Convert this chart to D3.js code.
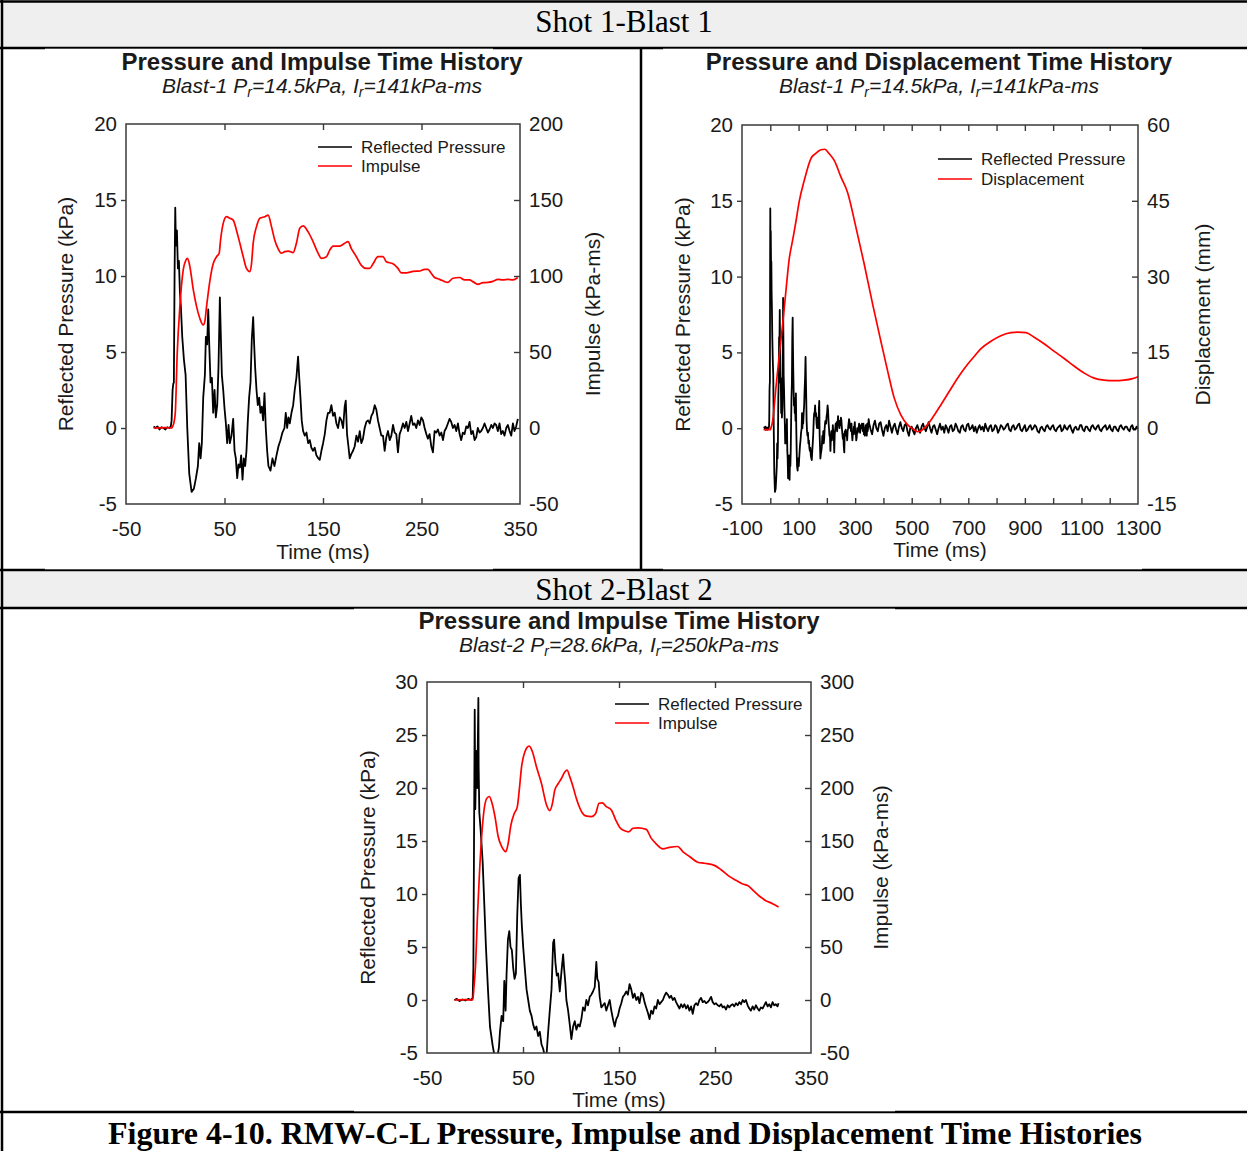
<!DOCTYPE html>
<html>
<head>
<meta charset="utf-8">
<script src="https://cdn.jsdelivr.net/npm/d3@7"></script>
<style>
  body { margin: 0; background: #fff; }
  svg { display: block; }
</style>
</head>
<body>
<script>
// ---------- Text ----------
const shot1Header = "Shot 1-Blast 1";
const shot2Header = "Shot 2-Blast 2";
const figureCaption = "Figure 4-10. RMW-C-L Pressure, Impulse and Displacement Time Histories";
const titleImpulse = "Pressure and Impulse Time History";
const titleDisp = "Pressure and Displacement Time History";
const subtitleBlast1 = ["Blast-1 P", {sub: "r"}, "=14.5kPa, I", {sub: "r"}, "=141kPa-ms"];
const subtitleBlast2 = ["Blast-2 P", {sub: "r"}, "=28.6kPa, I", {sub: "r"}, "=250kPa-ms"];
const labelTime = "Time (ms)";
const labelPressure = "Reflected Pressure (kPa)";
const labelImpulse = "Impulse (kPa-ms)";
const labelDisp = "Displacement (mm)";
const legendPressure = "Reflected Pressure";
const legendImpulse = "Impulse";
const legendDisp = "Displacement";

// ---------- Tick values ----------
const timeTicksShort = [-50, 50, 150, 250, 350];
const timeLabelsShort = [-50, 50, 150, 250, 350];
const timeTicksLong = [-100, 0, 100, 200, 300, 400, 500, 600, 700, 800, 900, 1000, 1100, 1200, 1300];
const timeLabelsLong = [-100, 100, 300, 500, 700, 900, 1100, 1300];
const pressureTicks1 = [-5, 0, 5, 10, 15, 20];
const impulseTicks1 = [-50, 0, 50, 100, 150, 200];
const dispTicks = [-15, 0, 15, 30, 45, 60];
const pressureTicks2 = [-5, 0, 5, 10, 15, 20, 25, 30];
const impulseTicks2 = [-50, 0, 50, 100, 150, 200, 250, 300];

// ---------- Series: [time ms, value] ----------
// Blast 1 reflected pressure (kPa), first 350 ms
const blast1Pressure = [
  [-22,0.1],[-20,0],[-18,0.1],[-16,-0.1],[-14,0.05],[-12,0],[-10,-0.1],[-8,0.05],[-6,0],[-4.5,0.1],
  [-3.7,0.5],[-2.7,2.5],[-2,2.9],[-1.4,3],[-0.7,10],[0,14.5],[0.7,12],[1.7,13],[2.7,10.5],[3.7,11],
  [4.7,9],[5.7,8],[7.1,6],[8.8,4.5],[10.5,3.5],[12.2,0],[14.2,-3],[16.6,-4.2],[18.9,-4],[21,-3.3],
  [23,-2.5],[24.3,-1],[25.7,-2],[27,-1],[28.4,2],[30.1,3.5],[31.1,6],[32.4,5.5],[33.5,7.8],[34.5,5.5],
  [35.8,3],[37.2,3.3],[38.5,1],[39.9,2.5],[41.2,0.7],[42.6,1.5],[43.9,4],[45.3,8.6],[46.3,6],[47.3,3.5],
  [48.7,2.5],[50,1.3],[51.4,0.3],[52.7,-1],[54.1,0.2],[55.4,-1],[57.1,-0.5],[58.8,0.6],[60.2,-1.5],[61.5,-2],
  [62.9,-3.3],[64.2,-2.4],[65.6,-2.6],[66.9,-1.8],[68.3,-3.4],[69.6,-2],[71,-2.5],[72.3,-1.5],[73.7,0.5],[75,2],
  [76.4,3],[77.7,5.8],[79.1,7.3],[80.1,5.5],[81.1,4],[82.5,2.5],[83.8,1.5],[85.2,2],[86.5,1],[87.9,1.4],
  [89.2,0.5],[90.6,2.3],[91.9,0],[93.3,-1.5],[94.6,-2.5],[96.7,-2.8],[98.7,-2],[100.7,-2.5],[102.8,-1.8],[104.8,-1.2],
  [106.8,-0.8],[108.8,-0.3],[110.9,0],[112.2,1],[113.6,0],[114.9,0.7],[116.3,0.3],[118,1],[119.7,1.5],[121.3,2.5],
  [123,3.3],[124.7,4.7],[125.7,3.5],[127.1,2],[128.4,0.5],[129.8,-0.2],[131.5,-0.5],[133.2,-0.3],[134.9,-1],[136.6,-0.8],
  [138.2,-1.3],[139.9,-1.5],[141.6,-1.3],[143.3,-1.8],[145.3,-2],[146.7,-2.1],[148.4,-1.5],[150.1,-1],[151.8,-0.4],[153.5,0.5],
  [155.1,1],[156.8,1],[158.5,1.5],[160.2,0.8],[161.9,1],[163.6,0.3],[165.3,0],[167,0.7],[168.7,0.5],[170.4,0],
  [172,1.4],[173.1,1.8],[174.4,-0.4],[175.8,-1.2],[177.1,-2],[178.8,-1.7],[180.5,-1.5],[182.2,-1.2],[183.9,-0.5],[185.6,-0.9],
  [187.3,-0.2],[188.9,-1],[190.6,-0.7],[192.3,0],[194,0.4],[195.7,0.5],[197.4,0.3],[199.1,0.8],[200.8,1],[202.5,1.5],
  [204.2,1.2],[205.8,0.5],[207.5,0],[209.2,-0.5],[210.9,-0.5],[212.6,-1.5],[214.3,-0.6],[216,-0.2],[217.7,-0.8],[219.4,-0.5],
  [221.1,0.2],[222.7,-0.3],[224.4,-0.4],[226.1,-1.6],[227.8,-0.4],[229.5,-0.1],[231.2,0.3],[232.9,0],[234.6,0.4],[236.3,-0.2],
  [238,0.3],[239.6,0.8],[241.3,0.2],[243,0.3],[244.7,0],[246.4,0.5],[248.1,0.2],[249.8,0.7],[251.5,0.5],[253.2,0],
  [254.9,-0.4],[256.5,-0.7],[258.2,-0.4],[259.9,-1.2],[261.6,-1.6],[263.3,-0.2],[265,-0.3],[266.7,-0.1],[268.4,-0.5],[270.1,-0.3],
  [271.8,-0.8],[273.4,-0.2],[275.1,0],[276.8,0.3],[278.5,0.6],[280.2,0.4],[281.9,0],[283.6,0.2],[285.3,-0.2],[287,0.3],
  [288.7,-0.4],[290.3,-0.8],[292,-0.3],[293.7,-0.4],[295.4,0.1],[297.1,0],[298.8,0.4],[300.5,-0.4],[302.2,-0.2],[303.9,-0.8],
  [305.6,-0.6],[307.2,0],[308.9,-0.3],[310.6,-0.2],[312.3,0],[314,0.3],[315.7,0],[317.4,-0.3],[319.1,-0.1],[320.8,0.2],
  [322.5,0],[324.1,0.3],[325.8,0.2],[327.5,-0.2],[329.2,0.3],[330.9,-0.4],[332.6,-0.2],[334.3,-0.5],[336,0],[337.7,0.2],
  [339.4,-0.2],[341.1,-0.5],[342.8,0.3],[344.4,-0.2],[346.1,0.1],[347.8,0.6]
];
// Blast 1 reflected pressure (kPa), 350 ms onwards
const blast1PressureLate = [
  [350,0.3],[355,-0.1],[360,-0.4],[365,0.2],[370,0.5],[375,0],[380,-0.2],[385,0.3],[390,0.4],[395,-0.1],
  [400,-0.5],[405,0],[410,0.2],[415,-0.2],[420,0.5],[425,0.1],[430,-0.3],[435,0.1],[440,0.3],[445,-0.1],
  [450,-0.4],[455,0.1],[460,0.4],[465,0],[470,-0.2],[475,0.2],[480,0.3],[485,-0.2],[490,-0.5],[495,0],
  [500,0.1],[505,-0.2],[510,-0.4],[515,0],[520,0.2],[525,-0.1],[530,-0.3],[535,0.1],[540,0.3],[545,0],
  [550,-0.2],[555,0.1],[560,0.4],[565,0],[570,-0.3],[575,0.1],[580,0.2],[585,-0.1],[590,-0.4],[595,0],
  [600,0.3],[605,-0.1],[610,0.1],[615,-0.3],[620,0.2],[625,0],[630,-0.3],[635,0.1],[640,0.2],[645,-0.2],
  [650,-0.1],[655,0.3],[660,0.1],[665,-0.2],[670,-0.3],[675,0.1],[680,0.2],[685,-0.1],[690,-0.2],[695,0.2],
  [700,0.3],[705,-0.1],[710,0],[715,0.2],[720,-0.2],[725,0.1],[730,-0.3],[735,0],[740,0.2],[745,-0.1],
  [750,0.1],[755,-0.2],[760,0.3],[765,0],[770,-0.2],[775,0.1],[780,0.2],[785,-0.2],[790,-0.1],[795,0.2],
  [800,0.1],[805,-0.3],[810,-0.1],[815,0.2],[820,0.1],[825,-0.1],[830,0],[835,0.2],[840,0.3],[845,-0.1],
  [850,-0.2],[855,0.1],[860,0.2],[865,-0.1],[870,0],[875,0.2],[880,0.3],[885,-0.1],[890,-0.2],[895,0],
  [900,0.2],[905,-0.2],[910,-0.1],[915,0.1],[920,0.2],[925,-0.1],[930,0],[935,0.2],[940,0.1],[945,-0.2],
  [950,-0.3],[955,0],[960,0.1],[965,-0.1],[970,-0.2],[975,0.1],[980,0.2],[985,0],[990,-0.1],[995,0.1],
  [1000,0.2],[1005,-0.1],[1010,-0.2],[1015,0],[1020,0.1],[1025,0.2],[1030,-0.2],[1035,-0.1],[1040,0.2],[1045,0],
  [1050,-0.1],[1055,0.1],[1060,0.2],[1065,-0.1],[1070,-0.3],[1075,0],[1080,0.1],[1085,-0.1],[1090,-0.1],[1095,0.2],
  [1100,0.2],[1105,-0.1],[1110,-0.2],[1115,0.1],[1120,0.1],[1125,-0.1],[1130,-0.2],[1135,0.1],[1140,0.2],[1145,0],
  [1150,-0.1],[1155,0.1],[1160,0.2],[1165,-0.1],[1170,-0.2],[1175,0],[1180,0.1],[1185,0.2],[1190,-0.1],[1195,0],
  [1200,0.2],[1205,-0.1],[1210,-0.2],[1215,0.1],[1220,0.1],[1225,-0.1],[1230,-0.2],[1235,0.1],[1240,0.2],[1245,0],
  [1250,-0.1],[1255,0.1],[1260,0.1],[1265,-0.1],[1270,-0.2],[1275,0.1],[1280,0.2],[1285,-0.1],[1290,-0.1],[1295,0.1],
  [1300,0]
];
// Blast 1 impulse (kPa-ms)
const blast1Impulse = [
  [-22,0],[-10,0.3],[-4,0],[-2,2],[0,9.6],[2,49],[4.7,80],[8.1,104],[10.8,110.5],[12.5,111.6],
  [14.9,106],[18.3,91],[21.6,80],[25,72],[28.4,67.8],[30,70],[31.8,80],[35.2,97],[38.5,108],[41.9,112.7],
  [44.6,115],[46,123.7],[48.7,134.6],[52,139],[55.4,138],[58.8,136.8],[62.2,130],[65.6,121.5],[69,112.7],[72.3,105],
  [75.7,102.9],[77.4,108],[79.1,121.5],[82.5,132.5],[85.9,138],[90.9,139],[94.3,140],[97.7,132.5],[101,123.7],[104.4,118],
  [107.8,115],[111.2,116],[114.6,116.4],[119.7,115.4],[123,121.5],[126.4,131.4],[129.8,133],[134.9,129],[139.9,122.6],[145,115],
  [148.4,111.6],[153.5,112.7],[156.8,117],[160.2,119.7],[167,119.7],[172,121.5],[175.4,122.6],[178.8,118],[183.9,112.7],[188.9,107],
  [194,105],[197.4,105],[200.8,108],[205.8,112.7],[210.9,112.7],[214.3,109.4],[221.1,108],[226.1,105],[229.5,102],[234.6,102],
  [241.3,103],[248.1,103.3],[253.2,104.4],[256.5,104.4],[259.9,101.8],[263.3,99],[268.4,97.8],[273.4,96.3],[276.8,95.8],[281.9,98.5],
  [288.7,99],[293.7,97.4],[298.8,97.4],[302.2,96.3],[307.2,94.5],[312.3,95.6],[317.4,95.8],[322.5,96.5],[327.5,97.8],[332.6,97.4],
  [337.7,97.8],[342.8,97.4],[347.8,99]
];
// Blast 1 displacement (mm)
const blast1Displacement = [
  [-23.5,-0.3],[0,-0.3],[2,0],[8,1.3],[20,8],[32,14.6],[43.6,20.5],[55,27],[67,33.5],[79,37.2],
  [91,41],[102,44.8],[120,49],[144,53.4],[161,54.4],[179,55.1],[193,55.2],[208.5,54.3],[226,53],[250,49.7],
  [273,46.7],[303,39.7],[332,32.5],[362,24.5],[391,17.2],[415,11.3],[438,6],[462,2.6],[485,0.7],[509,-0.3],
  [521,-0.7],[538,-0.3],[556,0.7],[580,2.6],[603,4.6],[633,7.3],[662,9.9],[697,12.6],[721,14.2],[744,15.7],
  [780,17.2],[815,18.3],[851,18.9],[874,19],[904,18.9],[933,18],[968,16.7],[1004,15.2],[1039,13.8],[1074,12.3],
  [1110,10.9],[1145,9.9],[1180,9.5],[1216,9.4],[1251,9.5],[1281,9.8],[1300,10.2]
];
// Blast 2 reflected pressure (kPa)
const blast2Pressure = [
  [-21.5,0],[-19,0.1],[-16,-0.1],[-13,0.05],[-10,-0.05],[-7,0.1],[-4,0],[-2.4,0.2],[-1.7,3],[-0.3,27.4],
  [0.3,18],[1.4,23.5],[2.4,20],[3.5,28.5],[3.8,22],[4.5,17.7],[5.9,16],[8,13],[9.7,9],[11.4,5],
  [13.5,1],[15.6,-2.5],[18.4,-4.3],[20.8,-5.5],[23.2,-5.4],[24.9,-4.5],[26,-3],[27.7,-1.5],[29.4,-2],[30.5,1.8],
  [31.9,-1],[32.9,2.5],[34.3,5.7],[35.7,6.5],[37,5],[38.4,4.7],[39.8,3],[41.2,2],[42.6,2.5],[44,8],
  [45.4,11.5],[46.8,11.8],[47.8,9],[48.8,7],[50.2,5],[51.9,3],[53.7,1],[55.4,0],[57.1,-1],[58.9,-1.5],
  [60.6,-2.3],[62.3,-2.8],[64,-2.5],[65.8,-3.4],[67.5,-3],[69.3,-4.2],[71,-4.6],[72.7,-5.3],[74.5,-5.2],[76.2,-3],
  [77.9,-1],[79.7,1],[81.4,5.4],[82.4,5.7],[83.8,3.5],[85.2,2.3],[86.6,2.5],[88.3,0.8],[90,2.6],[91.8,4.3],
  [92.8,3],[94.2,1.5],[95.2,0],[97,-1],[98.7,-2.3],[100.4,-3.7],[102.2,-2.5],[103.9,-2],[105.6,-2.8],[107.4,-2.3],
  [109.1,-2.5],[110.8,-1.8],[112.5,-0.7],[114.3,-1],[116,0],[117.7,-0.5],[119.5,0.3],[121.2,0.5],[122.9,0.8],[124.7,1.2],
  [126.4,3.6],[127.4,2],[128.8,1.7],[129.9,0.3],[131.6,-0.7],[133.3,-0.5],[135.1,-0.3],[136.8,-1],[138.5,-0.5],[140.3,0],
  [142,-1],[143.7,-1.8],[145.5,-2.5],[147.2,-1.8],[148.9,-1.5],[150.6,-0.8],[152.4,-0.3],[154.1,0.3],[155.8,0.5],[157.6,0.8],
  [159.3,0.5],[161,1.5],[162.8,1],[164.5,0.2],[166.2,0.6],[168,0],[169.7,0.3],[171.4,-0.3],[173.2,0.7],[174.9,0.5],
  [176.6,-0.2],[178.3,-0.7],[180.1,-1.2],[181.8,-1.8],[183.5,-1],[185.3,-1.3],[187,-0.6],[188.7,-0.8],[190.5,0],[192.2,-0.4],
  [193.9,-0.2],[195.7,0],[197.4,0.4],[199.1,0.7],[200.9,0.5],[202.6,0.2],[204.3,0.4],[206.1,0],[207.8,0.2],[209.5,-0.2],
  [211.2,-0.5],[213,-0.8],[214.7,-0.4],[216.4,-0.7],[218.2,-0.4],[219.9,-0.8],[221.6,-0.5],[223.4,-1],[225.1,-0.6],[226.8,-1.3],
  [228.6,-0.5],[230.3,-0.3],[232,-0.5],[233.8,0],[235.5,0.2],[237.2,-0.2],[239,-0.1],[240.7,-0.3],[242.4,-0.2],[244.1,0],
  [245.9,0.3],[247.6,-0.2],[249.3,-0.4],[251.1,-0.3],[252.8,-0.5],[254.5,-0.6],[256.3,-0.4],[258,-0.7],[259.7,-0.6],[261.5,-0.9],
  [263.2,-0.5],[264.9,-0.7],[266.7,-0.5],[268.4,-0.4],[270.1,-0.6],[271.9,-0.3],[273.6,-0.5],[275.3,-0.2],[277.1,-0.4],[278.8,0],
  [280.5,-0.2],[282.2,0],[284,-0.5],[285.7,-0.8],[287.4,-1],[289.2,-0.6],[290.9,-0.9],[292.6,-0.5],[294.4,-0.8],[296.1,-1],
  [297.8,-0.7],[299.6,-0.8],[301.3,-0.5],[303,-0.2],[304.8,-0.6],[306.5,-0.4],[308.2,-0.7],[310,-0.2],[311.7,-0.5],[313.4,-0.4],
  [315.1,-0.6],[316.2,-0.3]
];
// Blast 2 impulse (kPa-ms)
const blast2Impulse = [
  [-21.5,0],[-10,0.3],[-2.4,0],[-1,13],[0.7,35],[2.4,76],[4.5,117],[6.9,154],[9.4,179],[12.1,190],
  [14.9,192],[17.3,187],[20.8,173],[24.2,154],[27.7,145],[32.2,140],[34.6,148],[37.4,165],[40.9,176],[44,182],
  [46.1,198],[48.5,220],[51.9,234],[56.4,239.5],[59.9,234],[64,220],[69.3,204],[74.5,184],[77.9,178.7],[80.7,185.6],
  [83.1,198],[86.6,204],[90,209],[93.5,215],[95.9,217],[98.7,210.7],[102.2,201],[105.6,190],[110.8,178],[115.3,173.7],
  [121.2,173],[125.7,176],[129.2,185.6],[132.6,186],[136.8,182.4],[142,179.3],[146.5,170],[150.6,163],[155.8,159.6],[160.3,158.6],
  [164.5,162],[169.7,162.4],[178.3,161],[183.5,152.7],[188.7,147.3],[195.7,142.6],[202.6,144],[211.2,144.8],[216.4,140],[223.4,135.4],
  [232,130],[239,129],[249.3,127],[256.3,122.9],[264.9,116.6],[271.9,112.9],[278.8,109.4],[284,108],[290.9,102.5],[297.8,96.9],
  [303,93.7],[310,90.9],[316.2,87.8]
];

// ---------- Page ----------
const W = 1247, H = 1151;
const SANS = '"Liberation Sans", Arial, Helvetica, sans-serif';
const SERIF = '"Liberation Serif", "Times New Roman", Times, serif';
const INK = "#1a1a1a";
const AXIS = "#3a3a3a";
const RED = "#ff0000";

const svg = d3.select("body").append("svg").attr("width", W).attr("height", H);
const defs = svg.append("defs");

// Table: header bands and rules
const table = svg.append("g");
table.append("rect").attr("x", 2).attr("y", 1).attr("width", W - 2).attr("height", 47).attr("fill", "#efefef");
table.append("rect").attr("x", 2).attr("y", 570).attr("width", W - 2).attr("height", 38).attr("fill", "#efefef");
const rules = [
  [0, 1.5, W, 1.5], [2, 0, 2, H], [0, 48, W, 48], [641, 48, 641, 570],
  [0, 570, W, 570], [0, 608, W, 608], [0, 1112, W, 1112]
];
table.selectAll("line.rule").data(rules).join("line").attr("class", "rule")
  .attr("x1", d => d[0]).attr("y1", d => d[1]).attr("x2", d => d[2]).attr("y2", d => d[3])
  .attr("stroke", "#000").attr("stroke-width", 2.5);
// white chart panels sitting over part of the rules
[[45, 48.7, 448, 520.6], [663, 48.7, 479, 520.6], [354, 608.7, 541, 502.6]].forEach(r => {
  table.append("rect").attr("x", r[0]).attr("y", r[1]).attr("width", r[2]).attr("height", r[3]).attr("fill", "#fff");
});

svg.append("text").attr("x", 624).attr("y", 32).attr("text-anchor", "middle")
  .attr("font-family", SERIF).attr("font-size", 31).attr("fill", "#000").text(shot1Header);
svg.append("text").attr("x", 624).attr("y", 600).attr("text-anchor", "middle")
  .attr("font-family", SERIF).attr("font-size", 31).attr("fill", "#000").text(shot2Header);
svg.append("text").attr("x", 625).attr("y", 1144).attr("text-anchor", "middle")
  .attr("font-family", SERIF).attr("font-size", 32).attr("font-weight", "bold").attr("fill", "#000").text(figureCaption);

// ---------- Chart panel ----------
function drawPanel(cfg) {
  const g = svg.append("g");
  const x = d3.scaleLinear().domain(cfg.xDomain).range([cfg.left, cfg.right]);
  const y = d3.scaleLinear().domain(cfg.yDomain).range([cfg.bottom, cfg.top]);
  const y2 = d3.scaleLinear().domain(cfg.y2Domain).range([cfg.bottom, cfg.top]);

  const clipId = "clip-" + cfg.id;
  defs.append("clipPath").attr("id", clipId).append("rect")
    .attr("x", cfg.left).attr("y", cfg.top)
    .attr("width", cfg.right - cfg.left).attr("height", cfg.bottom - cfg.top);

  const styleAxis = (s, ends) => {
    s.select(".domain").remove();
    s.attr("font-size", 20.5).attr("font-family", SANS).attr("color", INK);
    s.selectAll(".tick line").attr("stroke", AXIS).attr("stroke-width", 1.4);
    s.selectAll(".tick").filter(d => d === ends[0] || d === ends[1]).select("line").remove();
  };
  const fmt = d => String(d);

  g.append("g").attr("transform", `translate(${cfg.left},0)`)
    .call(d3.axisLeft(y).tickValues(cfg.yTicks).tickSizeInner(5).tickSizeOuter(0).tickPadding(4).tickFormat(fmt))
    .call(s => styleAxis(s, cfg.yDomain));
  g.append("g").attr("transform", `translate(${cfg.right},0)`)
    .call(d3.axisRight(y2).tickValues(cfg.y2Ticks).tickSizeInner(-6).tickSizeOuter(0).tickPadding(9).tickFormat(fmt))
    .call(s => styleAxis(s, cfg.y2Domain));
  g.append("g").attr("transform", `translate(0,${cfg.bottom})`)
    .call(d3.axisBottom(x).tickValues(cfg.xTicks).tickSizeInner(-6).tickSizeOuter(0).tickPadding(cfg.xPad)
      .tickFormat(d => cfg.xLabels.includes(d) ? String(d) : ""))
    .call(s => styleAxis(s, cfg.xDomain));
  g.append("g").attr("transform", `translate(0,${cfg.top})`)
    .call(d3.axisTop(x).tickValues(cfg.xTicks).tickSizeInner(-6).tickSizeOuter(0).tickFormat(""))
    .call(s => styleAxis(s, cfg.xDomain));

  // traces
  const plot = g.append("g").attr("clip-path", `url(#${clipId})`);
  const pLine = d3.line().x(d => x(d[0])).y(d => y(d[1]));
  const sLine = d3.line().x(d => x(d[0])).y(d => y2(d[1])).curve(d3.curveMonotoneX);
  plot.append("path").datum(cfg.pressure).attr("d", pLine)
    .attr("fill", "none").attr("stroke", "#000").attr("stroke-width", 1.8).attr("stroke-linejoin", "round");
  plot.append("path").datum(cfg.second).attr("d", sLine)
    .attr("fill", "none").attr("stroke", RED).attr("stroke-width", 1.7).attr("stroke-linejoin", "round");

  // frame
  g.append("rect").attr("x", cfg.left).attr("y", cfg.top)
    .attr("width", cfg.right - cfg.left).attr("height", cfg.bottom - cfg.top)
    .attr("fill", "none").attr("stroke", AXIS).attr("stroke-width", 1.5);

  // titles
  g.append("text").attr("x", cfg.titleX).attr("y", cfg.titleY).attr("text-anchor", "middle")
    .attr("font-family", SANS).attr("font-weight", "bold").attr("font-size", 24).attr("fill", INK).text(cfg.title);
  const st = g.append("text").attr("x", cfg.titleX).attr("y", cfg.titleY + 23).attr("text-anchor", "middle")
    .attr("font-family", SANS).attr("font-style", "italic").attr("font-size", 21).attr("fill", INK);
  let shifted = false;
  cfg.subtitle.forEach(part => {
    if (typeof part === "string") {
      st.append("tspan").attr("dy", shifted ? -4 : 0).text(part);
      shifted = false;
    } else {
      st.append("tspan").attr("dy", 4).attr("font-size", 14).text(part.sub);
      shifted = true;
    }
  });

  // axis titles
  g.append("text").attr("x", (cfg.left + cfg.right) / 2).attr("y", cfg.xTitleY).attr("text-anchor", "middle")
    .attr("font-family", SANS).attr("font-size", 21).attr("fill", INK).text(labelTime);
  const midY = (cfg.top + cfg.bottom) / 2;
  g.append("text").attr("transform", `translate(${cfg.yTitleX},${midY}) rotate(-90)`).attr("text-anchor", "middle")
    .attr("font-family", SANS).attr("font-size", 21).attr("fill", INK).text(labelPressure);
  g.append("text").attr("transform", `translate(${cfg.y2TitleX},${midY}) rotate(-90)`).attr("text-anchor", "middle")
    .attr("font-family", SANS).attr("font-size", 21).attr("fill", INK).text(cfg.y2Title);

  // legend
  const lg = g.append("g");
  const items = [[legendPressure, "#000"], [cfg.secondName, RED]];
  items.forEach((it, i) => {
    const ly = cfg.legendY + i * cfg.legendGap;
    lg.append("line").attr("x1", cfg.legendX).attr("x2", cfg.legendX + 34).attr("y1", ly).attr("y2", ly)
      .attr("stroke", it[1]).attr("stroke-width", 1.5);
    lg.append("text").attr("x", cfg.legendX + 43).attr("y", ly + 6)
      .attr("font-family", SANS).attr("font-size", 17).attr("fill", INK).text(it[0]);
  });
}

drawPanel({
  id: "a", left: 126, right: 520, top: 124, bottom: 504,
  xDomain: [-50, 350], xTicks: timeTicksShort, xLabels: timeLabelsShort, xPad: 17,
  yDomain: [-5, 20], yTicks: pressureTicks1, y2Domain: [-50, 200], y2Ticks: impulseTicks1,
  pressure: blast1Pressure, second: blast1Impulse, secondName: legendImpulse,
  title: titleImpulse, subtitle: subtitleBlast1, titleX: 322, titleY: 70,
  xTitleY: 559, yTitleX: 73, y2TitleX: 600, y2Title: labelImpulse,
  legendX: 318, legendY: 147, legendGap: 19
});

drawPanel({
  id: "b", left: 742, right: 1138, top: 125, bottom: 504,
  xDomain: [-100, 1300], xTicks: timeTicksLong, xLabels: timeLabelsLong, xPad: 16,
  yDomain: [-5, 20], yTicks: pressureTicks1, y2Domain: [-15, 60], y2Ticks: dispTicks,
  pressure: blast1Pressure.concat(blast1PressureLate), second: blast1Displacement, secondName: legendDisp,
  title: titleDisp, subtitle: subtitleBlast1, titleX: 939, titleY: 70,
  xTitleY: 557, yTitleX: 690, y2TitleX: 1210, y2Title: labelDisp,
  legendX: 938, legendY: 159, legendGap: 20
});

drawPanel({
  id: "c", left: 427, right: 811, top: 682, bottom: 1053,
  xDomain: [-50, 350], xTicks: timeTicksShort, xLabels: timeLabelsShort, xPad: 17,
  yDomain: [-5, 30], yTicks: pressureTicks2, y2Domain: [-50, 300], y2Ticks: impulseTicks2,
  pressure: blast2Pressure, second: blast2Impulse, secondName: legendImpulse,
  title: titleImpulse, subtitle: subtitleBlast2, titleX: 619, titleY: 629,
  xTitleY: 1107, yTitleX: 375, y2TitleX: 888, y2Title: labelImpulse,
  legendX: 615, legendY: 704, legendGap: 19
});
</script>
</body>
</html>
